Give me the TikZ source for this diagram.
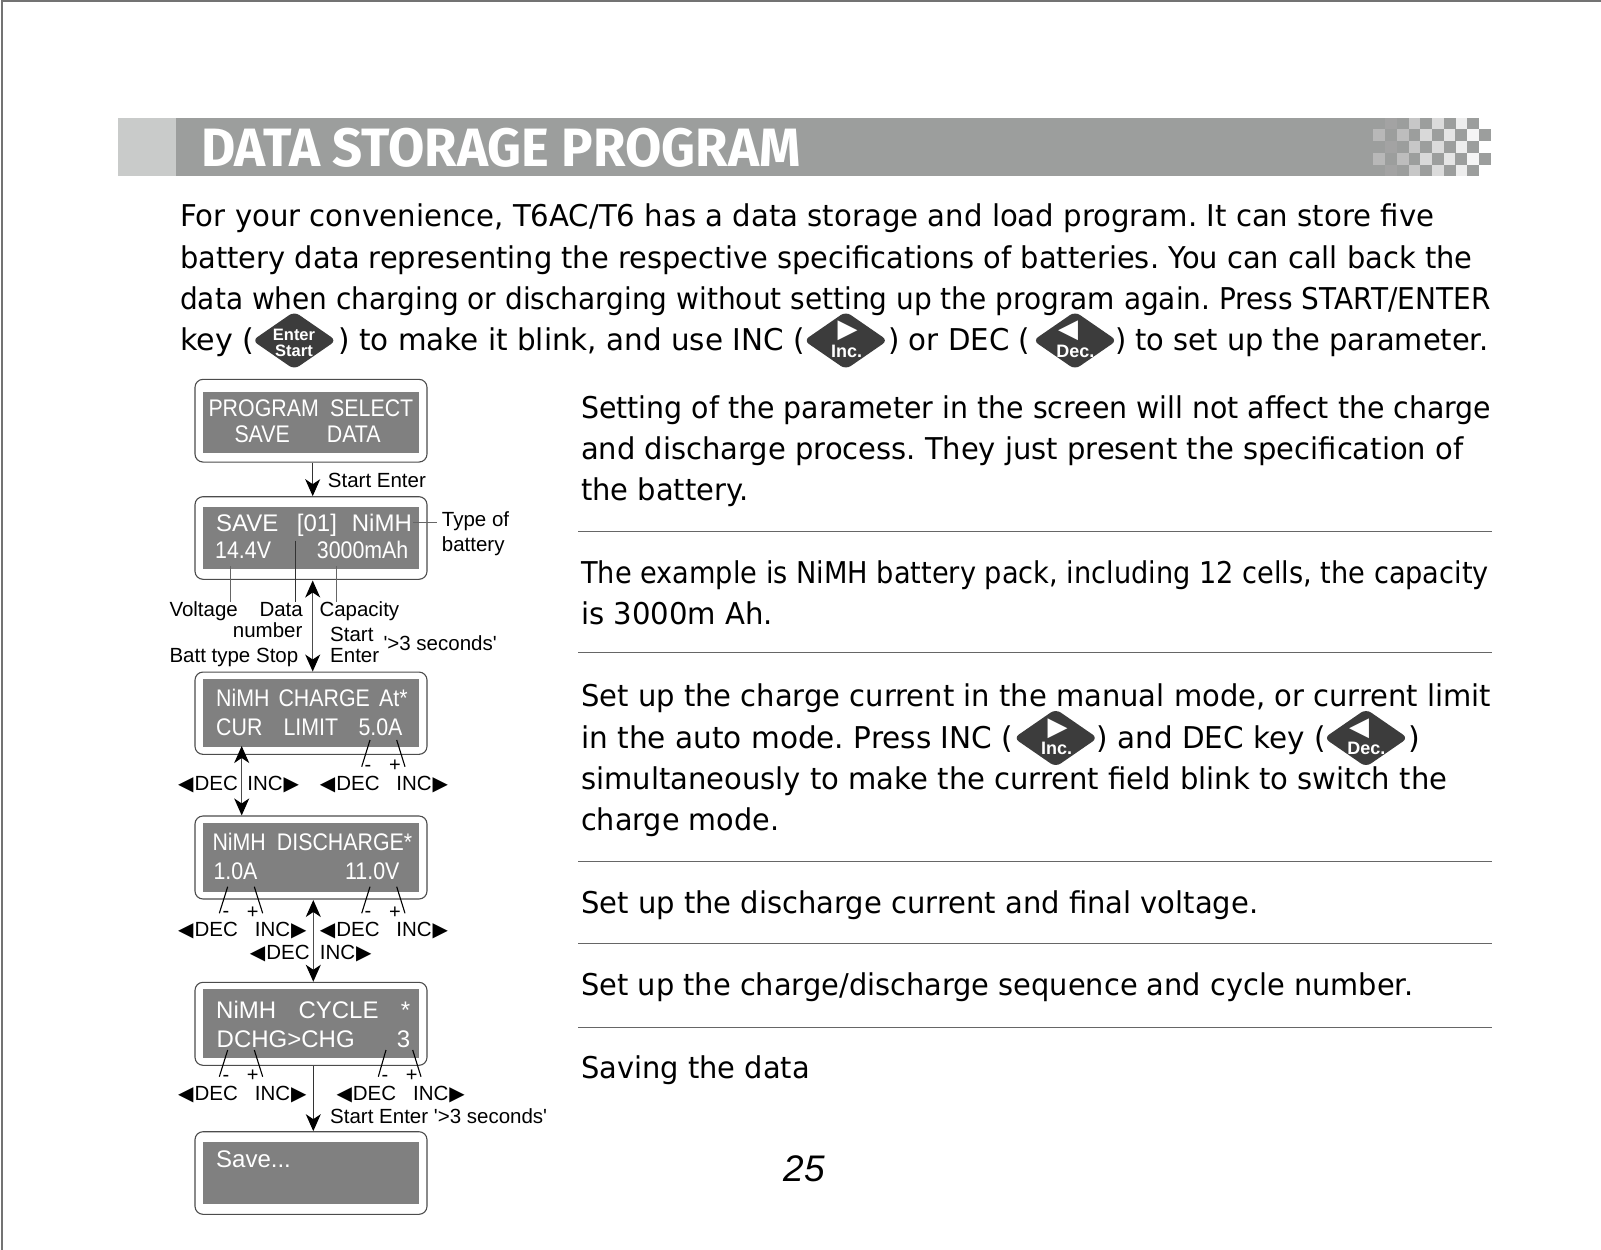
\documentclass[tikz,border=0pt]{standalone}
\usepackage{graphicx}
\usepackage{fontspec}
\setmainfont{DejaVu Sans}
\newfontfamily\labelfont{Liberation Sans}
\newfontfamily\lcdfont[FakeStretch=0.89]{Liberation Sans}
\newfontfamily\titlefont[FakeStretch=0.975]{Fira Sans Bold}
\newfontfamily\symfont{DejaVu Sans}
\usetikzlibrary{arrows.meta,shapes.geometric}
\definecolor{bandgray}{HTML}{9C9E9D}
\definecolor{tabgray}{HTML}{C9CBCA}
\definecolor{lcdgray}{HTML}{808080}
\definecolor{keygray}{HTML}{3C3C3C}
\newcommand{\decleft}{{\symfont\fontsize{20}{20}\selectfont ◀}\kern1pt DEC}
\newcommand{\incright}{INC\kern1pt{\symfont\fontsize{20}{20}\selectfont ▶}}
\newcommand{\fitline}[2]{\resizebox{#1pt}{\height}{#2}}

\begin{document}
\frenchspacing
\begin{tikzpicture}[x=1pt, y=-1pt,
    flowone/.style={-{Stealth[length=17pt,width=15pt,inset=5pt,black]}, line width=1.1pt, black!80},
    flowboth/.style={{Stealth[length=17pt,width=15pt,inset=5pt,black]}-{Stealth[length=17pt,width=15pt,inset=5pt,black]}, line width=1.1pt, black!70},
    framebox/.style={draw=black!70, line width=1.1pt, rounded corners=8pt, minimum width=232pt, inner sep=0pt},
    screenbox/.style={fill=lcdgray, minimum width=215.7pt, inner sep=0pt},
    lcdtext/.style={text=white, anchor=base west, inner sep=0pt, font=\lcdfont\fontsize{24}{24}\selectfont},
    lcdwide/.style={text=white, anchor=base west, inner sep=0pt, font=\labelfont\fontsize{24}{24}\selectfont},
    labeltext/.style={anchor=base west, inner sep=0pt, font=\labelfont\fontsize{20.5}{20.5}\selectfont},
    bodytext/.style={anchor=base west, inner sep=0pt, font=\fontsize{30}{30}\selectfont},
    keyshape/.style={diamond, aspect=1.5, fill=keygray, rounded corners=6pt, minimum width=84pt, minimum height=58pt, inner sep=0pt},
    keyword/.style={text=white, inner sep=0pt, align=center, font=\labelfont\bfseries\fontsize{18}{16}\selectfont},
    keytri/.style={text=white, inner sep=0pt, font=\symfont\fontsize{26}{26}\selectfont},
    ruleline/.style={black!60, line width=0.8pt},
    leaderline/.style={line width=1pt, black!80},
    tickline/.style={line width=1.1pt, black}]
\useasboundingbox (0,0) rectangle (1601,1250);

\draw[black!55, line width=2pt] (2,1250) -- (2,1) -- (1601,1);

\fill[tabgray] (118,117.7) rectangle (175.6,176);
\fill[bandgray] (175.6,117.7) rectangle (1478.9,176);
\foreach \yy in {117.7,141.1,164.5} {
    \foreach \xx/\sh in {1385/36,1408.5/22,1432/14,1455.5/7} {
        \fill[black!\sh] (\xx,\yy) rectangle +(11.7,11.7);
    }
    \fill[white] (1478.9,\yy) rectangle +(12,11.7);
}
\foreach \yy in {129.4,152.8} {
    \foreach \xx/\sh in {1373.3/28,1396.8/26,1420.2/15,1443.7/10,1467.1/4} {
        \fill[black!\sh] (\xx,\yy) rectangle +(11.7,11.7);
    }
    \fill[bandgray] (1478.9,\yy) rectangle +(11.8,11.7);
}
\node[anchor=base west, inner sep=0pt, text=white, font=\titlefont\fontsize{54}{54}\selectfont] (title) at (201,166.4) {DATA STORAGE PROGRAM};

\node[bodytext] (introa) at (180,226.5) {\fitline{1254}{For your convenience, T6AC/T6 has a data storage and load program. It can store five}};
\node[bodytext] (introb) at (180,268) {\fitline{1292}{battery data representing the respective specifications of batteries. You can call back the}};
\node[bodytext] (introc) at (180,309) {\fitline{1310}{data when charging or discharging without setting up the program again. Press START/ENTER}};
\node[bodytext] (introd) at (180,350) {\fitline{74}{key (}};
\node[keyshape] (keyenter) at (294.3,340.5) {};
\node[keyword, font=\labelfont\bfseries\fontsize{16.5}{15.5}\selectfont] (keyenterword) at (294,343) {Enter\\Start};
\node[bodytext] (introe) at (338.3,350) {\fitline{466}{) to make it blink, and use INC (}};
\node[keyshape] (keyinca) at (845.8,340.5) {};
\node[keytri] (keyincatri) at (847.7,331) {▶};
\node[keyword] (keyincaword) at (846.7,351) {Inc.};
\node[bodytext] (introf) at (888,350) {\fitline{142}{) or DEC (}};
\node[keyshape] (keydeca) at (1075,340.5) {};
\node[keytri] (keydecatri) at (1068,331) {◀};
\node[keyword] (keydecaword) at (1075.3,351) {Dec.};
\node[bodytext] (introg) at (1115,350) {\fitline{373}{) to set up the parameter.}};

\node[bodytext] (parta) at (581,418) {\fitline{910}{Setting of the parameter in the screen will not affect the charge}};
\node[bodytext] (partb) at (581,459) {\fitline{882}{and discharge process. They just present the specification of}};
\node[bodytext] (partc) at (581,500) {\fitline{167.4}{the battery.}};
\draw[ruleline] (578,531) -- (1492,531);
\node[bodytext] (partd) at (581,583) {\fitline{907.6}{The example is NiMH battery pack, including 12 cells, the capacity}};
\node[bodytext] (parte) at (581,624) {\fitline{192}{is 3000m Ah.}};
\draw[ruleline] (578,652.5) -- (1492,652.5);
\node[bodytext] (partf) at (581,706.5) {\fitline{910}{Set up the charge current in the manual mode, or current limit}};
\node[bodytext] (partg) at (581,748) {\fitline{432}{in the auto mode. Press INC (}};
\node[keyshape] (keyincb) at (1055.7,738) {};
\node[keytri] (keyincbtri) at (1057.6,728.5) {▶};
\node[keyword] (keyincbword) at (1056.6,748.5) {Inc.};
\node[bodytext] (parth) at (1096.6,748) {\fitline{229}{) and DEC key (}};
\node[keyshape] (keydecb) at (1366,738) {};
\node[keytri] (keydecbtri) at (1359,728.5) {◀};
\node[keyword] (keydecbword) at (1366.3,748.5) {Dec.};
\node[bodytext] (parti) at (1408,748) {)};
\node[bodytext] (partj) at (581,789) {\fitline{866}{simultaneously to make the current field blink to switch the}};
\node[bodytext] (partk) at (581,830) {\fitline{198}{charge mode.}};
\draw[ruleline] (578,861) -- (1492,861);
\node[bodytext] (partl) at (581,913) {\fitline{677}{Set up the discharge current and final voltage.}};
\draw[ruleline] (578,943.5) -- (1492,943.5);
\node[bodytext] (partm) at (581,995) {\fitline{832}{Set up the charge/discharge sequence and cycle number.}};
\draw[ruleline] (578,1027.5) -- (1492,1027.5);
\node[bodytext] (partn) at (581,1078) {\fitline{228.6}{Saving the data}};
\node[inner sep=0pt, font=\labelfont\itshape\fontsize{37}{37}\selectfont] (pageno) at (804,1169) {25};

\node[framebox, minimum height=82.7pt] (frameone) at (311,420.7) {};
\node[framebox, minimum height=82.6pt] (frametwo) at (311,538) {};
\node[framebox, minimum height=82.3pt] (framethree) at (311,713.2) {};
\node[framebox, minimum height=83pt] (framefour) at (311,857.5) {};
\node[framebox, minimum height=83pt] (framefive) at (311,1023.8) {};
\node[framebox, minimum height=82.6pt] (framesix) at (311,1173) {};
\node[screenbox, minimum height=61pt] (screenone) at (311.2,422.2) {};
\node[screenbox, minimum height=61.7pt] (screentwo) at (311.2,538.2) {};
\node[screenbox, minimum height=68.3pt] (screenthree) at (311.2,713.2) {};
\node[screenbox, minimum height=68.4pt] (screenfour) at (311.2,857.5) {};
\node[screenbox, minimum height=68.7pt] (screenfive) at (311.2,1023.7) {};
\node[screenbox, minimum height=61.7pt] (screensix) at (311.2,1172.9) {};

\node[lcdtext] (oneprog) at (208.3,416) {PROGRAM};
\node[lcdtext] (oneselect) at (330,416) {SELECT};
\node[lcdtext] (onesave) at (234.3,442.7) {SAVE};
\node[lcdtext] (onedata) at (326.7,442.7) {DATA};
\node[lcdwide] (twosave) at (216,531) {SAVE};
\node[lcdwide] (twonum) at (296.7,531) {[01]};
\node[lcdwide] (twotype) at (351.7,531) {NiMH};
\node[lcdtext] (twovolt) at (215,558.3) {14.4V};
\node[lcdtext] (twocap) at (316.7,558.3) {3000mAh};
\node[lcdtext] (threetype) at (216,706.7) {NiMH};
\node[lcdtext] (threechg) at (278.3,706.7) {CHARGE};
\node[lcdtext] (threeat) at (379,706.7) {At*};
\node[lcdtext] (threecur) at (216,735.7) {CUR};
\node[lcdtext] (threelim) at (283.3,735.7) {LIMIT};
\node[lcdtext] (threeamp) at (358.3,735.7) {5.0A};
\node[lcdtext] (fourtype) at (212.3,850) {NiMH};
\node[lcdtext] (fourdis) at (276.7,850) {DISCHARGE*};
\node[lcdtext] (fouramp) at (213.3,879.3) {1.0A};
\node[lcdtext] (fourvolt) at (345,879.3) {11.0V};
\node[lcdwide] (fivetype) at (216,1018.3) {NiMH};
\node[lcdwide] (fivecyc) at (298.3,1018.3) {CYCLE};
\node[lcdwide] (fivestar) at (400.7,1018.3) {*};
\node[lcdwide] (fiveseq) at (216.5,1047.3) {DCHG>CHG};
\node[lcdwide] (fivenum) at (396.7,1047.3) {3};
\node[lcdwide] (sixsave) at (216,1167.3) {Save...};

\draw[flowone] ([xshift=1.7pt]frameone.south) -- ([xshift=1.7pt]frametwo.north);
\coordinate (savetip) at (312.7,580.5);
\draw[flowboth] (savetip) -- (savetip |- framethree.north);
\coordinate (chargetip) at (241.7,746);
\draw[flowboth] (chargetip) -- (chargetip |- framefour.north);
\coordinate (dischtip) at (313.3,900);
\draw[flowboth] (dischtip) -- (dischtip |- framefive.north);
\draw[flowone] ([xshift=2.3pt]framefive.south) -- ([xshift=2.3pt]framesix.north);

\node[labeltext] (startenter) at (327.7,487.3) {Start Enter};
\node[labeltext] (typeof) at (441.7,526.7) {Type of};
\node[labeltext] (battery) at (441.7,551.7) {battery};
\node[labeltext] (voltage) at (169.3,616.7) {Voltage};
\node[labeltext] (datanum) at (259.3,616.7) {Data};
\node[labeltext] (capacity) at (319.3,616.7) {Capacity};
\node[labeltext] (number) at (232.7,637.7) {number};
\node[labeltext] (starta) at (330,641) {Start};
\node[labeltext] (entera) at (330,662.3) {Enter};
\node[labeltext] (secondsa) at (383.3,650.7) {'>3 seconds'};
\node[labeltext] (batttype) at (169.3,662.3) {Batt type Stop};
\node[labeltext] (secondsb) at (330,1123.3) {Start Enter '>3 seconds'};

\coordinate (typetip) at (413,522);
\draw[leaderline, black!60] (typetip) -- (437,522);
\coordinate (volttip) at (230.3,566);
\draw[leaderline, black!60] (volttip) -- (volttip |- voltage.north);
\coordinate (numtip) at (295.7,540.7);
\draw[leaderline] (numtip) -- (numtip |- datanum.north);
\coordinate (captip) at (336.7,566);
\draw[leaderline, black!60] (captip) -- (captip |- capacity.north);

\foreach \nm/\xa/\ya/\xb/\yb in {
    chgm/370/740/361.7/766.7, chgp/396.7/740/405/766.7,
    dism/227.7/886.7/219.3/913.3, disp/254.3/886.7/262.7/913.3,
    vltm/370/886.7/361.7/913.3, vltp/396.7/886.7/405/913.3,
    cycm/227.7/1050/219.3/1076.7, cycp/254.3/1050/262.7/1076.7,
    nrm/386/1050/378.3/1076.7, nrp/412.7/1050/421/1076.7} {
    \coordinate (\nm a) at (\xa,\ya);
    \coordinate (\nm b) at (\xb,\yb);
    \draw[tickline] (\nm a) -- (\nm b);
}
\foreach \nm/\xx/\yy/\tx in {
    chgminus/368/768/-, chgplus/395/766/+,
    disminus/226/914.5/-, displus/252.7/913/+,
    vltminus/368/914.5/-, vltplus/395/913/+,
    cycminus/226/1078/-, cycplus/252.7/1076/+,
    nrminus/385/1078/-, nrplus/411.7/1076/+} {
    \node[inner sep=0pt, font=\labelfont\fontsize{20}{20}\selectfont] (\nm) at (\xx,\yy) {\tx};
}

\foreach \nm/\xx/\yy in {
    rowadec/178/790, rowbdec/319.7/790, rowcdec/178/936, rowddec/319.7/936,
    rowedec/249.7/959.3, rowfdec/178/1100, rowgdec/336.3/1100} {
    \node[labeltext] (\nm) at (\xx,\yy) {\decleft};
}
\foreach \nm/\xx/\yy in {
    rowainc/299.3/790, rowbinc/448.3/790, rowcinc/306.7/936, rowdinc/448.3/936,
    roweinc/371.7/959.3, rowfinc/306.7/1100, rowginc/465/1100} {
    \node[labeltext, anchor=base east] (\nm) at (\xx,\yy) {\incright};
}
\end{tikzpicture}
\end{document}
